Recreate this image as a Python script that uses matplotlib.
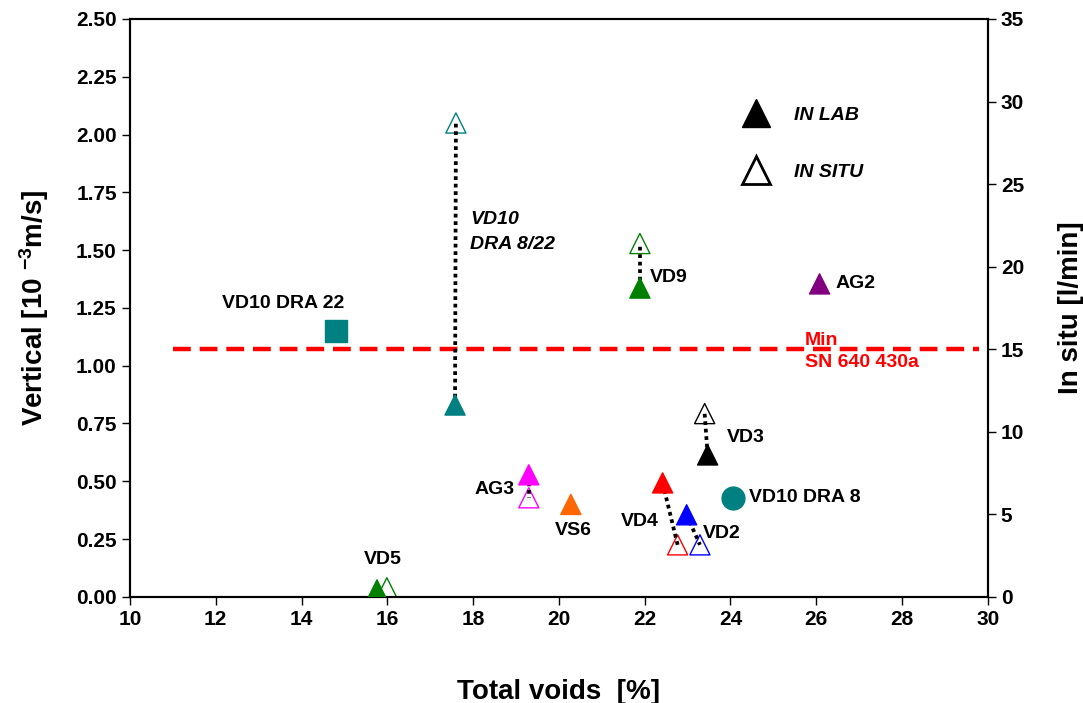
import matplotlib
matplotlib.use('Agg')
import matplotlib.pyplot as plt
from matplotlib.lines import Line2D

plt.rcParams['font.family'] = ['Liberation Sans', 'DejaVu Sans']
plt.rcParams['font.weight'] = 'bold'
plt.rcParams['axes.labelweight'] = 'bold'
plt.rcParams['mathtext.fontset'] = 'custom'
plt.rcParams['mathtext.rm'] = 'Liberation Sans:bold'
plt.rcParams['mathtext.default'] = 'rm'

# in lab samples: total voids [%], vertical permeability [10^-3 m/s]
lab_names = ['VD10', 'VD9', 'AG2', 'VD3', 'VD4', 'VD2', 'AG3', 'VS6', 'VD5']
lab_x = [17.58, 21.89, 26.08, 23.47, 22.42, 22.98, 19.30, 20.28, 15.76]
lab_y = [0.83, 1.336, 1.354, 0.614, 0.493, 0.355, 0.528, 0.40, 0.03]
lab_col = ['#008080', '#008000', '#800080', '#000000', '#FF0000',
           '#0000FF', '#FF00FF', '#FF6600', '#008000']

# in situ samples: total voids [%], flow [l/min]
situ_names = ['VD10', 'VD9', 'VD3', 'VD4', 'VD2', 'AG3', 'VD5']
situ_x = [17.60, 21.89, 23.40, 22.77, 23.29, 19.30, 15.99]
situ_y = [28.7, 21.4, 11.1, 3.15, 3.15, 6.0, 0.55]
situ_col = ['#008080', '#008000', '#000000', '#FF0000', '#0000FF',
            '#FF00FF', '#008000']

# pairs joined by dotted line
pairs = ['VD10', 'VD9', 'VD3', 'VD4', 'VD2', 'AG3']

# other lab samples
sq_x, sq_y = [14.80], [1.15]      # VD10 DRA 22
ci_x, ci_y = [24.06], [0.428]     # VD10 DRA 8

# minimum SN 640 430a [l/min]
min_x = [11.0, 29.8]
min_y = [15, 15]

fig = plt.figure(figsize=(10.83, 7.03), dpi=100)
ax = fig.add_axes([0.120, 0.151, 0.792, 0.822])
ax2 = ax.twinx()
ax.set_zorder(ax2.get_zorder() + 1)
ax.patch.set_visible(False)

ax.set_xlim(10, 30)
ax.set_ylim(0, 2.5)
ax2.set_ylim(0, 35)
ax.set_xticks(range(10, 31, 2))
ax.set_yticks([i * 0.25 for i in range(11)])
ax.set_yticklabels(['%.2f' % (i * 0.25) for i in range(11)])
ax2.set_yticks(range(0, 36, 5))

fac = 35 / 2.5
ax2.plot(min_x, min_y, color='red', lw=3.2, linestyle=(0, (4, 2)))

ax2.scatter(situ_x, situ_y, marker='^', s=210, facecolors='white',
            edgecolors=situ_col, linewidths=1.0, zorder=2)
for n in pairs:
    i = lab_names.index(n)
    j = situ_names.index(n)
    ax2.plot([lab_x[i], situ_x[j]], [lab_y[i] * fac, situ_y[j]], color='black',
             lw=2.7, linestyle=(0, (1, 1.0)), zorder=3)

ax.scatter(lab_x, lab_y, marker='^', s=210, c=lab_col, zorder=4)
ax.scatter(sq_x, sq_y, marker='s', s=240, c='#008080', zorder=4)
ax.scatter(ci_x, ci_y, marker='o', s=270, c='#008080', zorder=4)

fs = 14
ax.text(13.57, 1.267, 'VD10 DRA 22', fontsize=fs, ha='center', va='center')
ax.text(17.93, 1.578, 'VD10\nDRA 8/22', fontsize=fs, style='italic',
        ha='left', va='center', linespacing=1.6)
ax.text(22.12, 1.38, 'VD9', fontsize=fs, ha='left', va='center')
ax.text(26.46, 1.354, 'AG2', fontsize=fs, ha='left', va='center')
ax.text(25.73, 1.11, 'Min', fontsize=fs, color='red', ha='left', va='center')
ax.text(25.73, 1.012, 'SN 640 430a', fontsize=fs, color='red', ha='left', va='center')
ax.text(23.92, 0.688, 'VD3', fontsize=fs, ha='left', va='center')
ax.text(24.43, 0.428, 'VD10 DRA 8', fontsize=fs, ha='left', va='center')
ax.text(21.89, 0.324, 'VD4', fontsize=fs, ha='center', va='center')
ax.text(23.36, 0.272, 'VD2', fontsize=fs, ha='left', va='center')
ax.text(18.97, 0.463, 'AG3', fontsize=fs, ha='right', va='center')
ax.text(20.33, 0.285, 'VS6', fontsize=fs, ha='center', va='center')
ax.text(15.9, 0.16, 'VD5', fontsize=fs, ha='center', va='center')

handles = [Line2D([], [], marker='^', ls='none', ms=20, mfc='black', mec='black'),
           Line2D([], [], marker='^', ls='none', ms=20, mfc='white', mec='black', mew=2)]
ax.legend(handles, ['IN LAB', 'IN SITU'], loc='upper left',
          bbox_to_anchor=(0.693, 0.879), frameon=False, handlelength=1.5,
          handletextpad=1.2, labelspacing=2.0,
          prop={'size': fs, 'style': 'italic', 'weight': 'bold'})

for a in (ax, ax2):
    for s in a.spines.values():
        s.set_linewidth(1.5)
    a.tick_params(labelsize=15, width=1, length=6, direction='out')

ax.set_xlabel('Total voids  [%]', fontsize=20, labelpad=36)
ax.set_ylabel('Vertical [10 $^{-3}$m/s]', fontsize=20, labelpad=18)
ax2.set_ylabel('In situ [l/min]', fontsize=20, labelpad=24)

fig.savefig('out.png', dpi=100)
